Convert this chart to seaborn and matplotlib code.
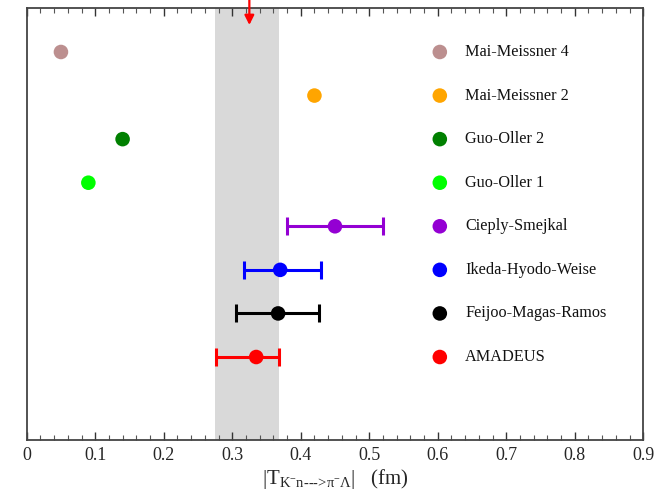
import numpy as np
import pandas as pd
import seaborn as sns
import matplotlib.pyplot as plt
from matplotlib.ticker import MultipleLocator

# Values (|T| in fm), listed bottom to top
models = ['AMADEUS', 'Feijoo-Magas-Ramos', 'Ikeda-Hyodo-Weise', 'Cieply-Smejkal',
          'Guo-Oller 1', 'Guo-Oller 2', 'Mai-Meissner 2', 'Mai-Meissner 4']
t_value = [0.335, 0.367, 0.370, 0.450, 0.090, 0.140, 0.420, 0.050]
err_low = [0.059, 0.061, 0.053, 0.070, 0.0, 0.0, 0.0, 0.0]
err_high = [0.033, 0.060, 0.060, 0.070, 0.0, 0.0, 0.0, 0.0]
colors = ['#ff0000', '#000000', '#0000ff', '#9400d3',
          '#00ff00', '#008000', '#ffa500', '#bc8f8f']

band_low, band_high = 0.275, 0.368
arrow_x = 0.325

df = pd.DataFrame({'model': models, 'T': t_value, 'lo': err_low, 'hi': err_high})
df['row'] = np.arange(1, len(df) + 1)

sns.set_style('white')
plt.rcParams['font.family'] = ['Liberation Serif', 'DejaVu Serif']
plt.rcParams['mathtext.fontset'] = 'custom'
plt.rcParams['mathtext.rm'] = 'Liberation Serif'
plt.rcParams['mathtext.it'] = 'Liberation Serif:italic'

fig = plt.figure(figsize=(6.64, 4.99), dpi=100)
ax = fig.add_axes([0.0402, 0.1182, 0.9286, 0.8652])

ax.axvspan(band_low, band_high, color='#d9d9d9', zorder=0, lw=0)

# error bars
has_err = df[(df['lo'] > 0) | (df['hi'] > 0)]
for _, r in has_err.iterrows():
    c = colors[int(r['row']) - 1]
    ax.errorbar(r['T'], r['row'], xerr=[[r['lo']], [r['hi']]], fmt='none',
                ecolor=c, elinewidth=2.2, capsize=6.5, capthick=2.2, zorder=2)

sns.scatterplot(data=df, x='T', y='row', hue='model', palette=colors,
                s=110, edgecolor='none', legend=False, ax=ax, zorder=3)

# legend column drawn inside the plot
key_x, text_x = 0.603, 0.64
ax.scatter(np.full(len(df), key_x), df['row'], c=colors, s=110,
           edgecolors='none', zorder=3)
for _, r in df.iterrows():
    ax.text(text_x, r['row'], r['model'], fontsize=11.7, va='center',
            ha='left', color='#111111')

# red arrow from above the frame
ax.annotate('', xy=(arrow_x, 8.62), xytext=(arrow_x, 1.0),
            xycoords='data', textcoords=('data', 'figure fraction'),
            arrowprops=dict(arrowstyle='-|>', color='red', lw=1.6,
                            mutation_scale=14, shrinkA=0, shrinkB=0),
            annotation_clip=False)

ax.set_xlim(0, 0.9)
ax.set_ylim(-0.905, 9.003)
ax.xaxis.set_major_locator(MultipleLocator(0.1))
ax.xaxis.set_minor_locator(MultipleLocator(0.02))
ax.set_xticks(np.arange(0, 0.91, 0.1))
ax.set_xticklabels(['0'] + ['%.1f' % v for v in np.arange(0.1, 0.91, 0.1)])
ax.set_yticks([])
ax.tick_params(axis='x', which='major', direction='in', length=6, width=1,
               top=True, bottom=True, labelsize=13, pad=5, color='#333333')
ax.tick_params(axis='x', which='minor', direction='in', length=3.5, width=0.8,
               top=True, bottom=True, color='#555555')
for sp in ax.spines.values():
    sp.set_color('#444444')
    sp.set_linewidth(1.3)

ax.set_xlabel(r'$|\mathrm{T}_{\mathrm{K^{-}n}\text{--->}\mathrm{\pi^{-}\Lambda}}|$   (fm)',
              fontsize=15, labelpad=2)
ax.set_ylabel('')

fig.savefig('out.png', dpi=100)
